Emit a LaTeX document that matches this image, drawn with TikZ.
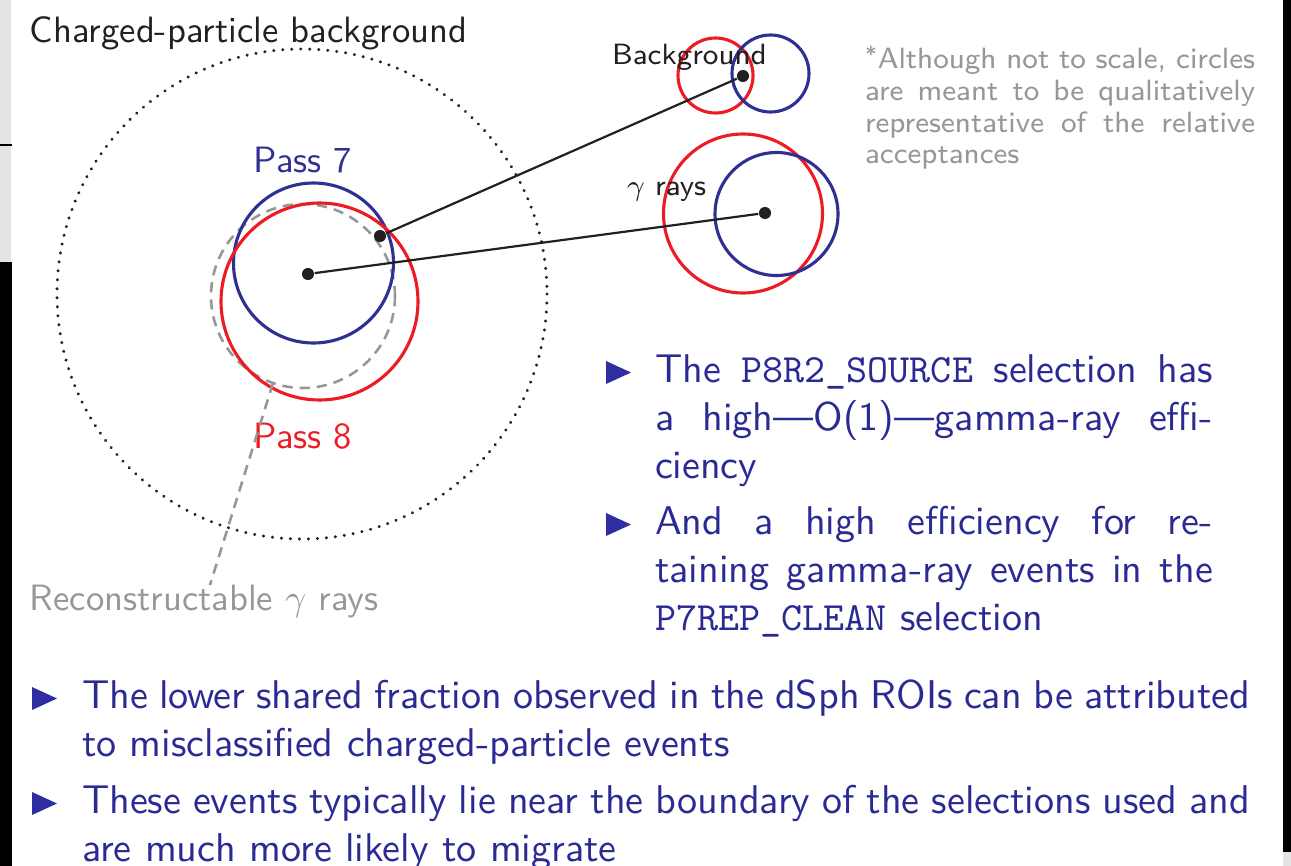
\documentclass[tikz,border=0pt]{standalone}
\usepackage{tikz}
\definecolor{tblue}{RGB}{42,42,148}
\definecolor{bulblue}{RGB}{46,46,160}
\definecolor{cred}{RGB}{237,28,36}
\definecolor{cblue}{RGB}{46,49,146}
\definecolor{notegray}{RGB}{150,150,155}
\definecolor{darktext}{RGB}{35,31,32}
\definecolor{stripgray}{RGB}{228,228,228}
\newcommand{\jl}[2]{\makebox[#1][s]{#2}}
\tikzset{
  base/.style={inner sep=0pt, outer sep=0pt},
  bodytext/.style={base, anchor=base west, text=tblue, font=\sffamily\fontsize{10.95}{13}\selectfont},
  smalllabel/.style={base, font=\sffamily\fontsize{10}{12}\selectfont},
  tinylabel/.style={base, font=\sffamily\fontsize{8}{9.5}\selectfont, text=darktext},
  notetext/.style={base, anchor=base west, text=notegray, font=\sffamily\fontsize{8}{9.5}\selectfont},
  dotnode/.style={circle, fill=darktext, inner sep=0pt, minimum size=3.3pt},
  conn/.style={draw=darktext, line width=0.6pt},
  redc/.style={draw=cred, line width=0.85pt},
  bluec/.style={draw=cblue, line width=0.85pt},
  graydash/.style={draw=notegray, line width=0.7pt, dash pattern=on 2.8pt off 1.9pt},
  bigdot/.style={draw=darktext, line width=0.9pt, dash pattern=on 0.01pt off 2.45pt, line cap=round},
  tri/.style={fill=bulblue}
}
\begin{document}
\begin{tikzpicture}[x=0.273pt,y=-0.273pt]
\useasboundingbox (0,0) rectangle (1291,866);
\fill[white] (0,0) rectangle (1291,866);
% screenshot edges
\fill[stripgray] (0,0) rectangle (11,262);
\draw[black, line width=0.6pt] (0,145) -- (12,145);
\fill[black] (0,262) rectangle (12,866);
\fill[black] (1283,0) rectangle (1291,852);
\fill[stripgray] (1283,852) rectangle (1291,866);

% big dotted circle
\draw[bigdot] (302,294) circle[radius=245];
\node[smalllabel, anchor=base west, text=darktext] (charged) at (30,42) {Charged-particle background};

% main circles
\draw[graydash] (303,296) circle[radius=92];
\draw[bluec] (313.5,263) circle[radius=80];
\draw[redc] (319.5,301.5) circle[radius=98.5];
\node[smalllabel, anchor=base, text=cblue] (p7) at (303,172) {Pass 7};
\node[smalllabel, anchor=base, text=cred] (p8) at (303,448) {Pass 8};
\node[smalllabel, anchor=base west, text=notegray] (recon) at (30,610) {Reconstructable $\gamma$ rays};
\coordinate (rp) at (273,383);
\coordinate (rend) at (210,585);
\draw[graydash] (rp) -- (rend);

% background circles
\draw[redc] (715.5,75.5) circle[radius=37.5];
\draw[bluec] (770.5,73.5) circle[radius=38.5];
\node[tinylabel, anchor=base west] (bglab) at (612,64) {Background};

% gamma circles
\draw[redc] (743,213.5) circle[radius=79.5];
\draw[bluec] (776.5,214) circle[radius=61.5];
\node[tinylabel, anchor=base west] (glab) at (627,195) {$\gamma$ rays};

% dots and connectors
\node[dotnode] (dcent) at (308,274) {};
\node[dotnode] (dedge) at (380,236) {};
\node[dotnode] (dbg) at (743,76) {};
\node[dotnode] (dgam) at (765,213) {};
\draw[conn] (dedge) -- (dbg);
\draw[conn] (dcent) -- (dgam);

% note
\node[notetext] (n1) at (865,68) {\jl{106.5pt}{\raisebox{0.4ex}{\fontsize{6}{7}\selectfont *}\kern0.3pt Although not to scale, circles}};
\node[notetext] (n2) at (865,100) {\jl{106.5pt}{are meant to be qualitatively}};
\node[notetext] (n3) at (865,132) {\jl{106.5pt}{representative of the relative}};
\node[notetext] (n4) at (865,163) {acceptances};

% right bullets
\fill[tri] (606,361) -- (631,372.5) -- (606,384) -- cycle;
\node[bodytext] (r1a) at (655,382) {\jl{152.3pt}{The \texttt{P8R2\_SOURCE} selection has}};
\node[bodytext] (r1b) at (655,430) {\jl{152.3pt}{a high---O(1)---gamma-ray effi-}};
\node[bodytext] (r1c) at (655,478) {ciency};
\fill[tri] (606,513) -- (631,524.5) -- (606,536) -- cycle;
\node[bodytext] (r2a) at (655,534) {\jl{152.3pt}{And a high efficiency for re-}};
\node[bodytext] (r2b) at (655,582) {\jl{152.3pt}{taining gamma-ray events in the}};
\node[bodytext] (r2c) at (655,630) {\texttt{P7REP\_CLEAN} selection};

% bottom bullets
\fill[tri] (32,687) -- (57,698.5) -- (32,710) -- cycle;
\node[bodytext] (b1a) at (82,708) {\jl{318.9pt}{The lower shared fraction observed in the dSph ROIs can be attributed}};
\node[bodytext] (b1b) at (82,756) {to misclassified charged-particle events};
\fill[tri] (32,792) -- (57,803.5) -- (32,815) -- cycle;
\node[bodytext] (b2a) at (82,813) {\jl{318.9pt}{These events typically lie near the boundary of the selections used and}};
\node[bodytext] (b2b) at (82,861) {are much more likely to migrate};
\end{tikzpicture}
\end{document}
